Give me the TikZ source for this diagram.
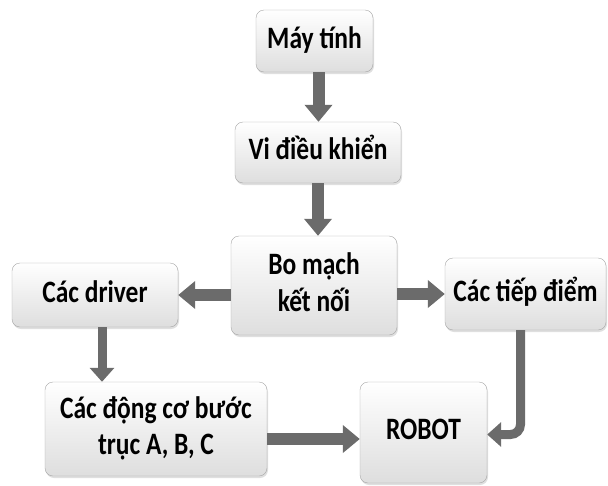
\documentclass[tikz,border=0pt]{standalone}
\usepackage{fontspec}
\setmainfont{Carlito}
\usepackage{graphicx}
\usetikzlibrary{arrows.meta,shadows}
\newcommand{\talltext}[1]{\scalebox{1}[1.22]{\begin{tabular}{@{}c@{}}#1\end{tabular}}}

\begin{document}
\begin{tikzpicture}[x=1pt, y=-1pt,
		box_style/.style={rectangle,rounded corners=8pt,draw=black!35,top color=white,bottom color=black!13,
			drop shadow={shadow xshift=1pt,shadow yshift=-2pt,opacity=0.25},
			font=\fontsize{25.5}{30}\selectfont\bfseries,inner sep=0pt},
		big_arrow/.style={draw=black!58,line width=12pt,-{Triangle[width=27pt,length=17pt]}},
		thin_arrow/.style={draw=black!58,line width=9pt,-{Triangle[width=24pt,length=14pt]}}]
		\useasboundingbox (0,0) rectangle (608,485);

		\node[box_style,minimum width=117pt,minimum height=62pt] (pc) at (314.5,41) {\talltext{Máy tính}};
		\node[box_style,minimum width=166pt,minimum height=61pt] (mcu) at (318,152.5) {\talltext{Vi điều khiển}};
		\node[box_style,minimum width=166pt,minimum height=99pt] (board) at (314,285.5) {\talltext{Bo mạch\\kết nối}};
		\node[box_style,minimum width=166pt,minimum height=64pt] (driver) at (95,295) {\talltext{Các driver}};
		\node[box_style,minimum width=161pt,minimum height=72pt] (contact) at (525.5,294) {\talltext{Các tiếp điểm}};
		\node[box_style,minimum width=222pt,minimum height=94pt] (motor) at (156,429) {\talltext{Các động cơ bước\\trục A, B, C}};
		\node[box_style,minimum width=127pt,minimum height=101pt] (robot) at (423.5,432.5) {\talltext{ROBOT}};

		\draw[big_arrow] ([xshift=4pt]pc.south) -- ([xshift=4pt]pc.south |- mcu.north);
		\draw[big_arrow] (mcu.south) -- (mcu.south |- board.north);
		\draw[big_arrow] (board.west |- driver.east) -- (driver.east);
		\draw[big_arrow] (board.east |- contact.west) -- (contact.west);
		\draw[thin_arrow] ([xshift=7pt]driver.south) -- ([xshift=7pt]driver.south |- motor.north);
		\draw[big_arrow] ([yshift=-10pt]motor.east) -- ([yshift=-10pt]motor.east -| robot.west);
		\draw[thin_arrow,rounded corners=10pt] ([xshift=-5pt]contact.south) |- ([yshift=-2pt]robot.east);

\end{tikzpicture}
\end{document}
